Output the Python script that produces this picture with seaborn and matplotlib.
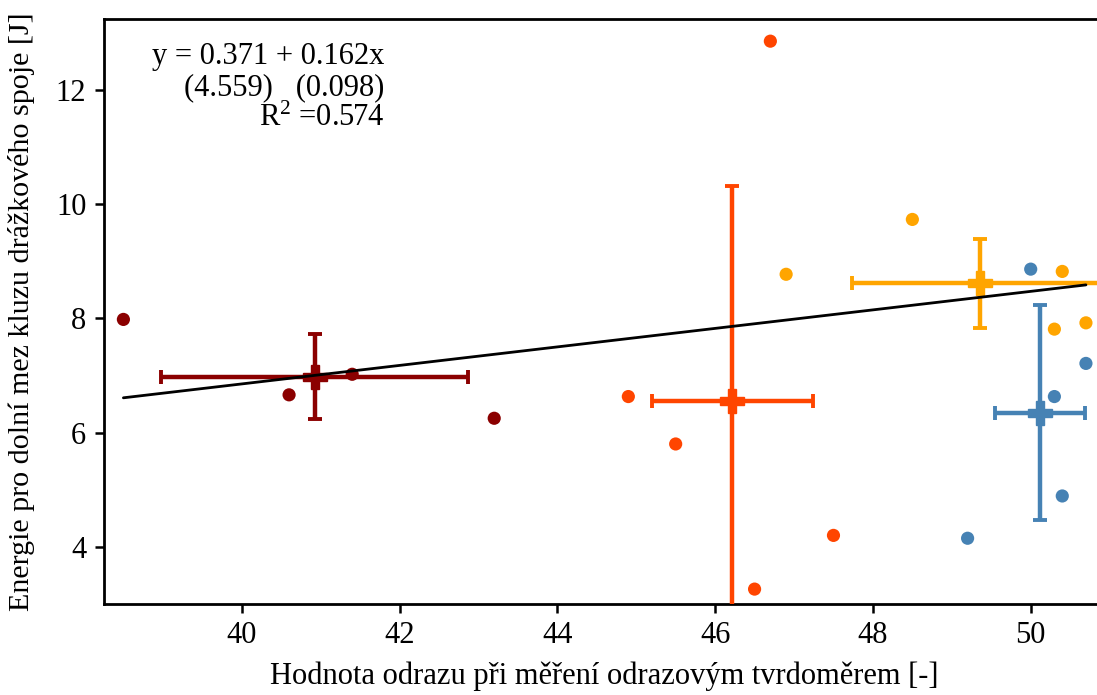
import numpy as np
import pandas as pd
import matplotlib.pyplot as plt
import seaborn as sns

x_g1 = [38.5, 40.6, 41.4, 43.2]
y_g1 = [7.98, 6.66, 7.02, 6.25]
x_g2 = [44.9, 45.5, 46.5, 47.5, 46.7]
y_g2 = [6.63, 5.80, 3.26, 4.20, 12.85]
x_g3 = [46.9, 48.5, 50.4, 50.3, 50.7]
y_g3 = [8.77, 9.73, 8.82, 7.81, 7.92]
x_g4 = [50.0, 50.7, 50.3, 50.4, 49.2]
y_g4 = [8.86, 7.21, 6.63, 4.89, 4.15]

group_names = ["1", "2", "3", "4"]
colors = ["darkred", "orangered", "orange", "steelblue"]

# regression from the reference annotation
intercept = 0.371
slope = 0.162
se_intercept = 4.559
se_slope = 0.098
r2 = 0.574

xs = [x_g1, x_g2, x_g3, x_g4]
ys = [y_g1, y_g2, y_g3, y_g4]
df = pd.concat([pd.DataFrame({"x": x, "y": y, "g": g})
                for x, y, g in zip(xs, ys, group_names)], ignore_index=True)

sns.set_style("ticks")
plt.rcParams['font.family'] = ['Liberation Serif', 'DejaVu Serif']
plt.rcParams['mathtext.fontset'] = 'stix'
plt.rcParams['axes.linewidth'] = 2.0
plt.rcParams['axes.edgecolor'] = 'black'
plt.rcParams['text.color'] = 'black'
plt.rcParams['axes.labelcolor'] = 'black'
plt.rcParams['xtick.color'] = 'black'
plt.rcParams['ytick.color'] = 'black'

fig = plt.figure(figsize=(10.97, 6.95), dpi=100)
ax = fig.add_axes([0.0945, 0.131, 0.9134, 0.841])

sns.scatterplot(data=df, x="x", y="y", hue="g", palette=colors, s=90,
                edgecolor="none", legend=False, ax=ax, zorder=2)

for x, y, c in zip(xs, ys, colors):
    mx, my = np.mean(x), np.mean(y)
    sx, sy = np.std(x, ddof=1), np.std(y, ddof=1)
    ax.errorbar(mx, my, xerr=sx, yerr=sy, fmt="P", color=c, ms=17,
                elinewidth=3.2, capsize=5, capthick=2.8, zorder=3)

xl = np.array([df["x"].min(), df["x"].max()])
ax.plot(xl, intercept + slope * xl, color="black", lw=2.0, zorder=4)

ax.text(0.048, 0.962,
        "y = %.3f + %.3fx\n(%.3f)   (%.3f)\n$\\mathregular{R^2}$ =%.3f"
        % (intercept, slope, se_intercept, se_slope, r2),
        transform=ax.transAxes, ha="left", va="top", multialignment="right",
        fontsize=22, linespacing=1.1)

ax.set_xlim(38.25, 50.95)
ax.set_ylim(3.0, 13.23)
ax.set_xticks([40, 42, 44, 46, 48, 50])
ax.set_yticks([4, 6, 8, 10, 12])
ax.tick_params(labelsize=22, width=1.8, length=6.5, direction="out", pad=6)
ax.set_xlabel("Hodnota odrazu při měření odrazovým tvrdoměrem [-]", fontsize=22, labelpad=8)
ax.set_ylabel("Energie pro dolní mez kluzu drážkového spoje [J]", fontsize=21.6, labelpad=15)

fig.savefig("out.png", dpi=100)
